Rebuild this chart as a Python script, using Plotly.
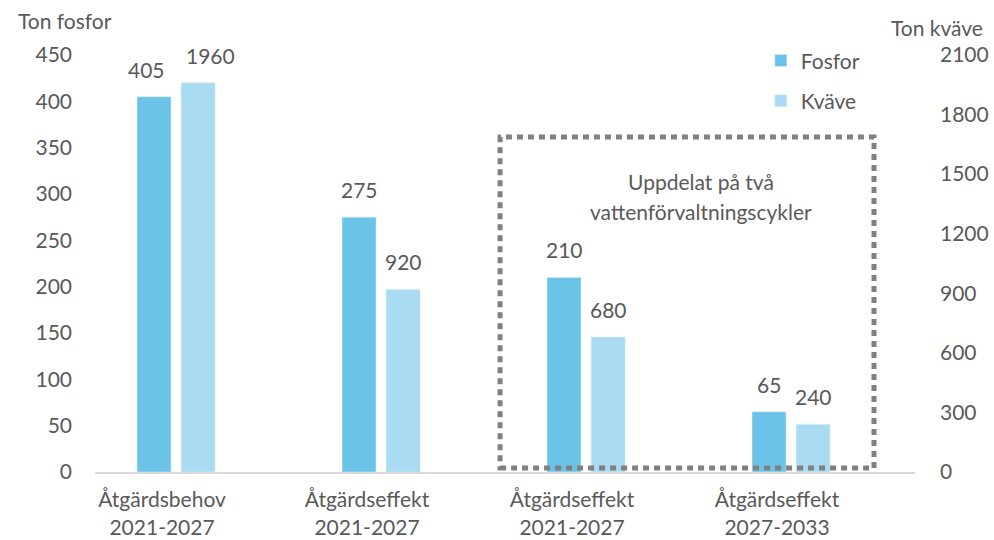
import plotly.graph_objects as go

categories = ["Åtgärdsbehov<br>2021-2027", "Åtgärdseffekt<br>2021-2027",
              "Åtgärdseffekt<br>2021-2027", "Åtgärdseffekt<br>2027-2033"]
fosfor = [405, 275, 210, 65]
kvave = [1960, 920, 680, 240]
left_ticks = [0, 50, 100, 150, 200, 250, 300, 350, 400, 450]
right_ticks = [0, 300, 600, 900, 1200, 1500, 1800, 2100]

FONT = "Lato, 'Open Sans', sans-serif"
GRAY = "#595959"
C_F = "#6BC4E8"
C_K = "#A9DCF2"
FS = 21

xs = list(range(len(categories)))
W = 0.166
OFF_F = -0.039
OFF_K = 0.176

fig = go.Figure()
fig.add_trace(go.Bar(x=xs, y=fosfor, name="Fosfor", marker_color=C_F,
                     width=W, offset=OFF_F - W / 2, yaxis="y",
                     legendgroup="f", hoverinfo="skip"))
fig.add_trace(go.Bar(x=xs, y=kvave, name="Kväve", marker_color=C_K,
                     width=W, offset=OFF_K - W / 2, yaxis="y2",
                     legendgroup="k", hoverinfo="skip"))

ann = []
xsh_f = [-8, 0, 0, 0]
xsh_k = [12, 0, 0, 0]
for i, v in enumerate(fosfor):
    ann.append(dict(x=i + OFF_F, y=v, xref="x", yref="y", text=str(v),
                    showarrow=False, yanchor="bottom", yshift=13, xshift=xsh_f[i],
                    font=dict(family=FONT, size=FS, color=GRAY)))
for i, v in enumerate(kvave):
    ann.append(dict(x=i + OFF_K, y=v, xref="x", yref="y2", text=str(v),
                    showarrow=False, yanchor="bottom", yshift=13, xshift=xsh_k[i],
                    font=dict(family=FONT, size=FS, color=GRAY)))
ann.append(dict(x=0.0, xref="paper", y=1.0, yref="paper", text="Ton fosfor",
                showarrow=False, xanchor="center", yanchor="middle", xshift=-30, yshift=35,
                font=dict(family=FONT, size=FS, color=GRAY)))
ann.append(dict(x=1.0, xref="paper", y=1.0, yref="paper", text="Ton kväve",
                showarrow=False, xanchor="center", yanchor="middle", xshift=22, yshift=28,
                font=dict(family=FONT, size=FS, color=GRAY)))
ann.append(dict(x=2.63, xref="x", y=1.0, yref="paper",
                text="Uppdelat på två",
                showarrow=False, xanchor="center", yanchor="middle", yshift=-126,
                font=dict(family=FONT, size=FS, color=GRAY)))
ann.append(dict(x=2.63, xref="x", y=1.0, yref="paper",
                text="vattenförvaltningscykler",
                showarrow=False, xanchor="center", yanchor="middle", yshift=-156,
                font=dict(family=FONT, size=FS, color=GRAY)))

fig.add_shape(type="rect", xref="x", yref="y", x0=1.649, x1=3.473, y0=4.3, y1=361.5,
              line=dict(color="#808080", width=5, dash="6px,5px"))

fig.update_layout(
    width=994, height=540,
    margin=dict(l=95, r=79, t=55, b=68, autoexpand=False),
    paper_bgcolor="white", plot_bgcolor="white",
    font=dict(family=FONT, size=FS, color=GRAY),
    showlegend=True,
    legend=dict(x=0.812, y=1.035, xanchor="left", yanchor="top",
                traceorder="grouped", tracegroupgap=10,
                font=dict(family=FONT, size=FS, color=GRAY),
                bgcolor="rgba(0,0,0,0)"),
    xaxis=dict(range=[-0.327, 3.673], tickvals=xs, ticktext=categories,
               showgrid=False, zeroline=False, showline=True,
               linecolor="#D9D9D9", linewidth=2, ticks="",
               ticklabelstandoff=8, automargin=False,
               tickfont=dict(family=FONT, size=FS, color=GRAY)),
    yaxis=dict(range=[0, 450], tickvals=left_ticks, showgrid=False,
               zeroline=False, showline=False, ticks="",
               ticklabelstandoff=22, automargin=False,
               tickfont=dict(family=FONT, size=FS, color=GRAY)),
    yaxis2=dict(range=[0, 2100], tickvals=right_ticks, overlaying="y",
                side="right", showgrid=False, zeroline=False, showline=False,
                ticks="", ticklabelstandoff=24, automargin=False,
                tickfont=dict(family=FONT, size=FS, color=GRAY)),
    annotations=ann,
)

fig.write_html("out.html",
               config={"displayModeBar": False},
               post_script="document.body.style.margin='0';document.body.style.overflow='hidden';")
